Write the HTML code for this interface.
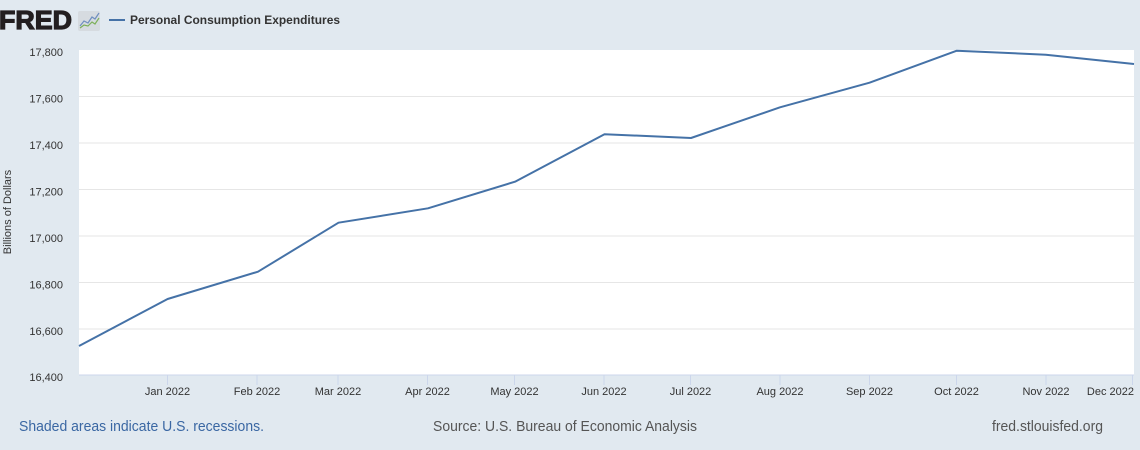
<!DOCTYPE html>
<html><head><meta charset="utf-8"><style>
html,body{margin:0;padding:0;background:#e1e9f0;}
svg{display:block;font-family:"Liberation Sans",Arial,sans-serif;}
</style></head><body>
<svg width="1140" height="450" viewBox="0 0 1140 450" xmlns="http://www.w3.org/2000/svg">
<rect x="0" y="0" width="1140" height="450" fill="#e1e9f0"/>
<!-- logo -->
<text x="-1" y="29" font-size="26" font-weight="bold" fill="#231f20" stroke="#231f20" stroke-width="1.2" textLength="73" lengthAdjust="spacingAndGlyphs">FRED</text>
<rect x="78" y="11" width="22" height="20" rx="2" fill="#d6dbe0"/>
<polyline points="80,26 84,21 88,23 92,17 95,19 99,13" fill="none" stroke="#6f8fbf" stroke-width="1.2"/>
<polyline points="80,28 84,25 88,26 92,22 95,24 99,18" fill="none" stroke="#7db05a" stroke-width="1.2"/>
<!-- legend -->
<line x1="109" y1="20" x2="125" y2="20" stroke="#4572a7" stroke-width="2"/>
<text x="130" y="24" font-size="12" font-weight="bold" fill="#333" textLength="210" lengthAdjust="spacingAndGlyphs">Personal Consumption Expenditures</text>
<!-- plot area -->
<rect x="79" y="50" width="1055" height="325" fill="#ffffff"/>
<g stroke="#e6e6e6" stroke-width="1">
<line x1="79" x2="1134" y1="96.5" y2="96.5"/>
<line x1="79" x2="1134" y1="143" y2="143"/>
<line x1="79" x2="1134" y1="189.5" y2="189.5"/>
<line x1="79" x2="1134" y1="236" y2="236"/>
<line x1="79" x2="1134" y1="282.5" y2="282.5"/>
<line x1="79" x2="1134" y1="329" y2="329"/>
</g>
<line x1="79" x2="1134" y1="375" y2="375" stroke="#ccd6eb" stroke-width="1"/>
<g stroke="#ccd6eb" stroke-width="1">
<line x1="167.5" x2="167.5" y1="375" y2="385"/>
<line x1="257" x2="257" y1="375" y2="385"/>
<line x1="338" x2="338" y1="375" y2="385"/>
<line x1="427.5" x2="427.5" y1="375" y2="385"/>
<line x1="514.5" x2="514.5" y1="375" y2="385"/>
<line x1="604" x2="604" y1="375" y2="385"/>
<line x1="690.5" x2="690.5" y1="375" y2="385"/>
<line x1="780" x2="780" y1="375" y2="385"/>
<line x1="869.5" x2="869.5" y1="375" y2="385"/>
<line x1="956.5" x2="956.5" y1="375" y2="385"/>
<line x1="1046" x2="1046" y1="375" y2="385"/>
<line x1="1132.5" x2="1132.5" y1="375" y2="385"/>
</g>
<!-- y labels -->
<g font-size="11" fill="#333" text-anchor="end">
<text x="63" y="56">17,800</text>
<text x="63" y="102.5">17,600</text>
<text x="63" y="149">17,400</text>
<text x="63" y="195.5">17,200</text>
<text x="63" y="242">17,000</text>
<text x="63" y="288.5">16,800</text>
<text x="63" y="335">16,600</text>
<text x="63" y="381">16,400</text>
</g>
<text transform="translate(11,212) rotate(-90)" font-size="11" fill="#333" text-anchor="middle">Billions of Dollars</text>
<!-- x labels -->
<g font-size="11" fill="#333" text-anchor="middle">
<text x="167.5" y="395">Jan 2022</text>
<text x="257" y="395">Feb 2022</text>
<text x="338" y="395">Mar 2022</text>
<text x="427.5" y="395">Apr 2022</text>
<text x="514.5" y="395">May 2022</text>
<text x="604" y="395">Jun 2022</text>
<text x="690.5" y="395">Jul 2022</text>
<text x="780" y="395">Aug 2022</text>
<text x="869.5" y="395">Sep 2022</text>
<text x="956.5" y="395">Oct 2022</text>
<text x="1046" y="395">Nov 2022</text>
<text x="1134" y="395" text-anchor="end">Dec 2022</text>
</g>
<!-- series -->
<polyline fill="none" stroke="#4572a7" stroke-width="2" stroke-linejoin="round" stroke-linecap="butt"
points="79,346 167.6,299 258,271.7 338.5,222.7 428,208.3 515,181.7 604.5,134.2 691,138 780,107.3 869.5,82.7 956.8,50.7 1045.8,54.7 1134,64"/>
<!-- footer -->
<text x="19" y="431" font-size="14.5" fill="#3a67a3" textLength="245" lengthAdjust="spacingAndGlyphs">Shaded areas indicate U.S. recessions.</text>
<text x="433" y="431" font-size="14.5" fill="#555" textLength="264" lengthAdjust="spacingAndGlyphs">Source: U.S. Bureau of Economic Analysis</text>
<text x="992" y="431" font-size="14.5" fill="#555" textLength="111" lengthAdjust="spacingAndGlyphs">fred.stlouisfed.org</text>
</svg>
</body></html>
